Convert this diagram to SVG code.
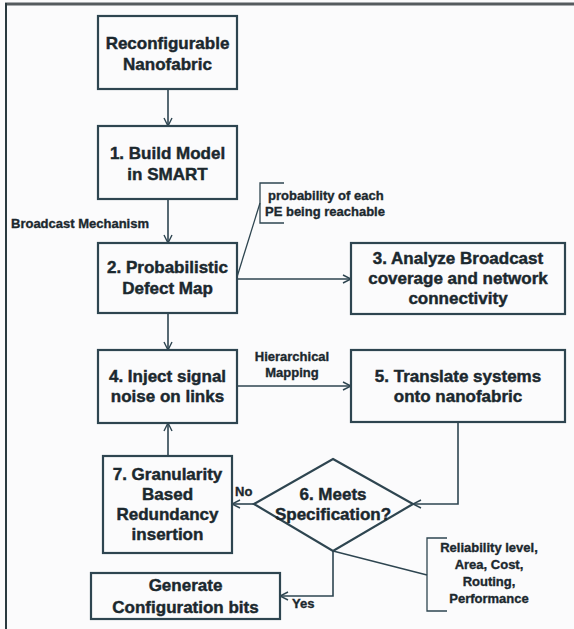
<svg xmlns="http://www.w3.org/2000/svg" width="574" height="629" viewBox="0 0 574 629">
  <defs>
    <marker id="arrow" viewBox="0 0 10 10" refX="9" refY="5" markerWidth="10" markerHeight="10" markerUnits="userSpaceOnUse" orient="auto">
      <path d="M1,1 L9,5 L1,9" fill="none" stroke="#2e4550" stroke-width="1.4"/>
    </marker>
    <style>
      .box { fill: none; stroke: #2e4550; stroke-width: 2.2; }
      .lbl { font-family: "Liberation Sans", Arial, sans-serif; font-weight: bold; font-size: 17px; fill: #1b282e; stroke: #1b282e; stroke-width: 0.45; text-anchor: middle; }
      .note { font-family: "Liberation Sans", Arial, sans-serif; font-weight: bold; font-size: 13px; fill: #1b282e; stroke: #1b282e; stroke-width: 0.35; }
      .mid { text-anchor: middle; }
      .edge { fill: none; stroke: #2e4550; stroke-width: 1.6; }
      .thin { fill: none; stroke: #2e4550; stroke-width: 1.3; }
    </style>
  </defs>

  <!-- page background and frame -->
  <rect x="0" y="0" width="574" height="629" fill="#fbfbfc"/>
  <line x1="5" y1="4" x2="574" y2="4" stroke="#555b5e" stroke-width="3"/>
  <line x1="6" y1="3" x2="6" y2="629" stroke="#2a3a40" stroke-width="2"/>

  <!-- connectors -->
  <g id="connectors">
    <line class="edge" x1="168" y1="89" x2="168" y2="126" marker-end="url(#arrow)"/>
    <line class="edge" x1="168" y1="199" x2="168" y2="243" marker-end="url(#arrow)"/>
    <line class="edge" x1="237" y1="279" x2="351" y2="279" marker-end="url(#arrow)"/>
    <line class="edge" x1="168" y1="313" x2="168" y2="350" marker-end="url(#arrow)"/>
    <line class="edge" x1="237" y1="386" x2="351" y2="386" marker-end="url(#arrow)"/>
    <polyline class="edge" points="458,422 458,504 413,504" marker-end="url(#arrow)"/>
    <line class="edge" x1="254" y1="504" x2="232" y2="504" marker-end="url(#arrow)"/>
    <line class="edge" x1="168" y1="455" x2="168" y2="423" marker-end="url(#arrow)"/>
    <polyline class="edge" points="333,551 333,596 280,596" marker-end="url(#arrow)"/>
    <!-- annotation leaders -->
    <line class="thin" x1="237" y1="277" x2="260" y2="203"/>
    <path class="thin" d="M284,183 H260 V223 H284"/>
    <line class="thin" x1="333" y1="551" x2="427" y2="575"/>
    <path class="thin" d="M447,538 H427 V611 H447"/>
    <text class="note" x="11" y="228">Broadcast Mechanism</text>
    <text class="note mid" x="292" y="361">Hierarchical</text>
    <text class="note mid" x="292" y="377">Mapping</text>
    <text class="note" x="235" y="496">No</text>
    <text class="note" x="292" y="608">Yes</text>
  </g>

  <g id="n-nanofabric">
    <rect class="box" x="98" y="16" width="139" height="73"/>
    <text class="lbl" x="167.5" y="49">Reconfigurable</text>
    <text class="lbl" x="167.5" y="70">Nanofabric</text>
  </g>

  <g id="n-build-model">
    <rect class="box" x="98" y="126" width="139" height="73"/>
    <text class="lbl" x="167.5" y="159">1. Build Model</text>
    <text class="lbl" x="167.5" y="180">in SMART</text>
  </g>

  <g id="n-defect-map">
    <rect class="box" x="98" y="243" width="139" height="70"/>
    <text class="lbl" x="167.5" y="273">2. Probabilistic</text>
    <text class="lbl" x="167.5" y="294">Defect Map</text>
  </g>

  <g id="n-reachable-note">
    <text class="note" x="268" y="200">probability of each</text>
    <text class="note" x="265" y="216">PE being reachable</text>
  </g>

  <g id="n-analyze">
    <rect class="box" x="351" y="243" width="214" height="71"/>
    <text class="lbl" x="458" y="264">3. Analyze Broadcast</text>
    <text class="lbl" x="458" y="284">coverage and network</text>
    <text class="lbl" x="458" y="304">connectivity</text>
  </g>

  <g id="n-inject">
    <rect class="box" x="98" y="350" width="139" height="73"/>
    <text class="lbl" x="167.5" y="382">4. Inject signal</text>
    <text class="lbl" x="167.5" y="402">noise on links</text>
  </g>

  <g id="n-translate">
    <rect class="box" x="351" y="350" width="214" height="72"/>
    <text class="lbl" x="458" y="382">5. Translate systems</text>
    <text class="lbl" x="458" y="402">onto nanofabric</text>
  </g>

  <g id="n-meets-spec">
    <polygon class="box" points="333,459 413,504 333,551 254,504"/>
    <text class="lbl" x="333" y="500">6. Meets</text>
    <text class="lbl" x="333" y="520">Specification?</text>
  </g>

  <g id="n-redundancy">
    <rect class="box" x="103" y="456" width="129" height="97"/>
    <text class="lbl" x="167.5" y="480">7. Granularity</text>
    <text class="lbl" x="167.5" y="500">Based</text>
    <text class="lbl" x="167.5" y="520">Redundancy</text>
    <text class="lbl" x="167.5" y="540">insertion</text>
  </g>

  <g id="n-metrics-note">
    <text class="note mid" x="489" y="552">Reliability level,</text>
    <text class="note mid" x="489" y="569">Area, Cost,</text>
    <text class="note mid" x="489" y="586">Routing,</text>
    <text class="note mid" x="489" y="603">Performance</text>
  </g>

  <g id="n-config-bits">
    <rect class="box" x="91" y="573" width="189" height="46"/>
    <text class="lbl" x="185.5" y="591">Generate</text>
    <text class="lbl" x="185.5" y="613">Configuration bits</text>
  </g>
</svg>
